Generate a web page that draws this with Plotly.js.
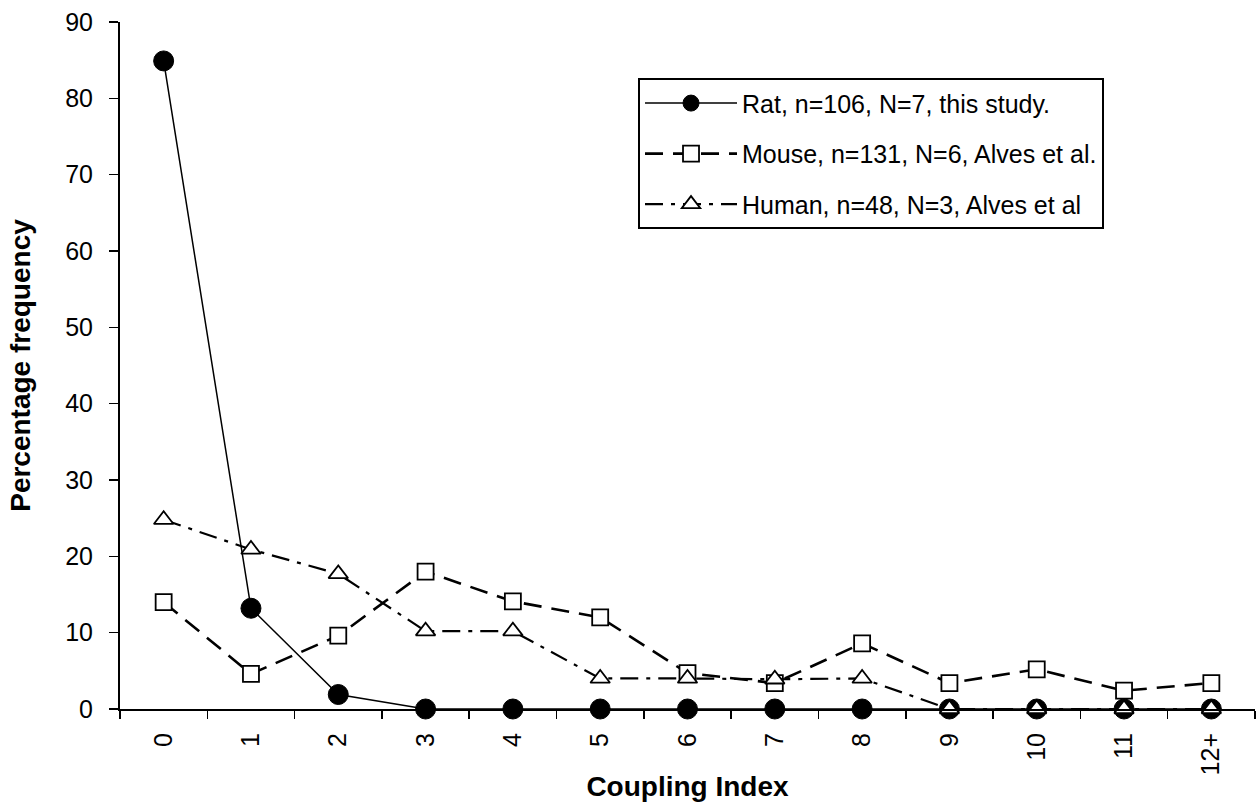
<!DOCTYPE html>
<html>
<head>
<meta charset="utf-8">
<script src="https://cdn.plot.ly/plotly-3.0.1.min.js"></script>
<style>html,body{margin:0;padding:0;background:#fff;}#chart{width:1258px;height:806px;}</style>
</head>
<body>
<div id="chart"></div>
<script>
const categories = ["0","1","2","3","4","5","6","7","8","9","10","11","12+"];
const ratValues   = [84.9, 13.2, 1.9, 0, 0, 0, 0, 0, 0, 0, 0, 0, 0];
const mouseValues = [14.0, 4.6, 9.6, 18.0, 14.1, 12.0, 4.7, 3.4, 8.6, 3.4, 5.2, 2.4, 3.4];
const humanValues = [24.8, 20.9, 17.7, 10.2, 10.2, 4.0, 4.0, 3.9, 4.0, 0, 0, 0, 0];
const seriesNames = ["Rat, n=106, N=7, this study.", "Mouse, n=131, N=6, Alves et al.", "Human, n=48, N=3, Alves et al"];
const yTicks = [0,10,20,30,40,50,60,70,80,90];
const boundaryTicks = categories.map((c,i)=>i-0.5).concat([categories.length-0.5]);

const font = "Arial, 'Liberation Sans', sans-serif";

const traces = [
  {x: categories, y: ratValues, name: seriesNames[0], type: "scatter", mode: "lines+markers",
   legendgroup: "a", cliponaxis: false,
   line: {color: "black", width: 1.5},
   marker: {symbol: "circle", size: 20, color: "black", line: {color: "black", width: 1}}},
  {x: categories, y: mouseValues, name: seriesNames[1], type: "scatter", mode: "lines+markers",
   legendgroup: "b", cliponaxis: false,
   line: {color: "black", width: 2.6, dash: "18px,10px"},
   marker: {symbol: "square", size: 16, color: "white", line: {color: "black", width: 1.8}}},
  {x: categories, y: humanValues, name: seriesNames[2], type: "scatter", mode: "lines+markers",
   legendgroup: "c", cliponaxis: false,
   line: {color: "black", width: 2.2, dash: "18px,8px,4px,8px"},
   marker: {symbol: "triangle-up", size: 17, color: "white", line: {color: "black", width: 1.8}}}
];

const layout = {
  width: 1258, height: 806,
  margin: {l: 120, r: 3, t: 22, b: 97},
  paper_bgcolor: "white", plot_bgcolor: "white",
  font: {family: font, color: "black", size: 25},
  showlegend: true,
  legend: {
    x: 0.4564, y: 0.918, xanchor: "left", yanchor: "top",
    bgcolor: "white", bordercolor: "black", borderwidth: 2,
    font: {family: font, size: 25, color: "black"},
    traceorder: "grouped", tracegroupgap: 15, itemwidth: 92
  },
  xaxis: {
    type: "category", categoryorder: "array", categoryarray: categories,
    range: [-0.5, categories.length - 0.5],
    tickson: "boundaries", ticks: "outside", ticklen: 8, tickwidth: 1.5, tickcolor: "black",
    showline: true, linecolor: "black", linewidth: 2, showgrid: false, zeroline: false,
    tickangle: -90, tickfont: {family: font, size: 25}, ticklabelstandoff: 12,
    title: {text: "<b>Coupling Index</b>", font: {family: font, size: 28}, standoff: 2}
  },
  xaxis2: {
    overlaying: "x", anchor: "y", type: "linear",
    range: [-0.5, categories.length - 0.5],
    tickmode: "array", tickvals: boundaryTicks, ticks: "inside", ticklen: 8, tickwidth: 1.5, tickcolor: "black",
    showticklabels: false, showline: false, showgrid: false, zeroline: false
  },
  yaxis: {
    range: [0, 90], tickmode: "array", tickvals: yTicks,
    ticks: "outside", ticklen: 9, tickwidth: 1.5, tickcolor: "black",
    showline: true, linecolor: "black", linewidth: 2, showgrid: false, zeroline: false,
    tickfont: {family: font, size: 25}, ticklabelstandoff: 11,
    title: {text: "<b>Percentage frequency</b>", font: {family: font, size: 28}, standoff: 26}
  },
  yaxis2: {
    overlaying: "y", anchor: "x", range: [0, 90], tickmode: "array", tickvals: yTicks,
    ticks: "inside", ticklen: 9, tickwidth: 1.5, tickcolor: "black",
    showticklabels: false, showline: false, showgrid: false, zeroline: false
  }
};

Plotly.newPlot("chart", traces, layout, {displayModeBar: false, staticPlot: true});
</script>
</body>
</html>
